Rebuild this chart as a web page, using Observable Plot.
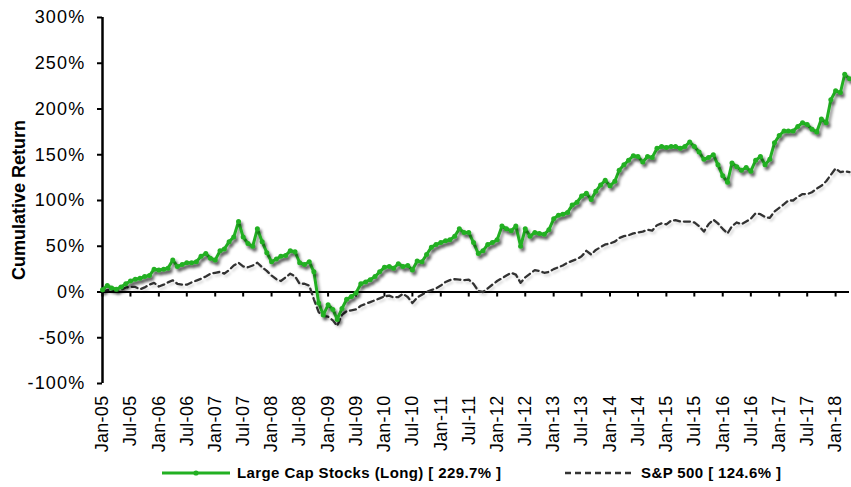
<!DOCTYPE html>
<html><head><meta charset="utf-8">
<script src="https://cdn.jsdelivr.net/npm/d3@7"></script>
<script src="https://cdn.jsdelivr.net/npm/@observablehq/plot@0.6"></script>
<style>
body{margin:0;background:#fff;}
#chart{position:relative;width:851px;height:458px;}
#legend{position:relative;width:851px;height:29px;font:bold 15px "Liberation Sans", Arial, sans-serif;letter-spacing:0.4px;color:#000;}
#legend .item{position:absolute;top:0;height:29px;display:flex;align-items:center;white-space:nowrap;}
#legend svg{display:block;}
</style></head><body>
<div id="chart"></div>
<div id="legend"></div>
<script>
// ---- data ----
const startMonth = "2005-01-01";
const seriesNames = ["Large Cap Stocks (Long) [ 229.7% ]", "S&P 500 [ 124.6% ]"];
const largeCap = [
  2.5, 7, 4.5, 3, 5.5, 9, 12, 14, 15, 17, 18, 25,
  24, 25, 26, 35, 28, 30, 32, 32, 33, 39, 42, 37,
  35, 45, 47, 55, 60, 77, 60, 53, 50, 69, 55, 43,
  33, 36, 39, 40, 45, 44, 32, 30, 33, 22, -12, -25,
  -14, -19, -30, -18, -8, -5, -1, 9, 11, 13.5, 17, 22,
  27, 28, 26, 31, 28, 29, 24, 34, 33, 41, 49, 52,
  54, 56, 57, 61, 69, 65, 65, 54, 42, 45, 52, 54,
  57, 72, 69, 67, 72, 50, 69, 61, 65, 64, 63, 68,
  80, 84, 85, 87, 95, 98, 105, 108, 101, 110, 117, 122,
  116, 121, 133, 139, 144, 149, 148, 142, 148, 147, 157, 159,
  158, 159, 159, 157, 159, 164, 159, 153, 145, 147, 150, 139,
  127, 120, 141, 137, 133, 136, 132, 144, 148, 139, 145, 163,
  171, 176, 176, 176, 181, 185, 183, 178, 175, 189, 185, 210,
  220, 218, 238, 233
];
const sp500 = [
  0.7, 2, 2.5, 2, 2.5, 5, 5.5, 5.5, 3, 5, 8, 10,
  6, 8, 10.5, 12.8, 9, 8, 8, 10.5, 12.5, 14.5, 17, 20,
  21, 22, 20, 24, 29, 32, 28, 27, 29, 32, 27, 23,
  18, 14, 12, 16, 20, 17, 9, 9, 7, -8, -22, -26,
  -27, -31, -37, -25, -21, -20, -19, -15, -13, -11, -9, -7,
  -4.7, -4, -6, -5.5, -2, -5.5, -12, -6, -3, 0, 2, 4,
  7, 11, 13, 14, 13.5, 13, 13.5, 9, 1, 0, 4, 8,
  12, 15, 18, 21, 19, 10, 16, 20, 24, 23, 21, 22,
  25, 27, 29, 32, 34, 36, 39, 45, 41, 46, 49, 52,
  53, 55, 59, 61, 62, 64, 65, 66, 68, 67, 73, 75,
  74, 78, 78.5, 77, 77, 77, 76, 72, 66, 74, 79, 75,
  69, 64, 72, 76, 74, 77, 80, 86, 85, 82, 81, 88,
  92, 96, 100, 100, 104, 107, 107, 109, 113, 116, 121, 128,
  135, 131, 132, 131
];
const yTicks = [-100, -50, 0, 50, 100, 150, 200, 250, 300];
const yTitle = "Cumulative Return";

// ---- build ----
const green = "#22b022";
const start = new Date(startMonth);
const dates = d3.utcMonth.range(start, d3.utcMonth.offset(start, largeCap.length));
const xTicks = d3.utcMonth.every(6).range(dates[0], dates[dates.length - 1]);
const lcRows = dates.map((d, i) => ({date: d, value: largeCap[i]}));
const spRows = dates.map((d, i) => ({date: d, value: sp500[i]}));

const plot = Plot.plot({
  width: 851, height: 458,
  marginLeft: 102, marginRight: 2, marginTop: 17, marginBottom: 75,
  x: {type: "utc", domain: [dates[0], dates[dates.length - 1]]},
  y: {domain: [-100, 300]},
  style: {fontFamily: "'Liberation Sans', Arial, sans-serif", fontSize: "18px", color: "#000", background: "#fff"},
  marks: [
    Plot.axisY({ticks: yTicks, tickSize: 5, tickPadding: 12, strokeWidth: 2, tickFormat: d => d + "%", fontSize: 18, label: null}),
    Plot.axisX({ticks: xTicks, tickSize: 0, tickPadding: 12, tickRotate: -90, tickFormat: d3.utcFormat("%b-%y"), fontSize: 18, label: null}),
    Plot.ruleY([0], {stroke: "#000", strokeWidth: 2}),
    Plot.ruleX(xTicks, {x: d => d, y1: 0, y2: -5.5, stroke: "#000", strokeWidth: 2}),
    Plot.ruleX([dates[0]], {stroke: "#000", strokeWidth: 2.5}),
    Plot.line(spRows, {x: "date", y: "value", stroke: "#333", strokeWidth: 2.3, strokeDasharray: "6,4"}),
    Plot.line(lcRows, {x: "date", y: "value", stroke: green, strokeWidth: 3}),
    Plot.dot(lcRows, {x: "date", y: "value", r: 2.5, fill: green, stroke: "none"})
  ]
});
document.getElementById("chart").appendChild(plot);

const svg = d3.select(plot);
const defs = svg.insert("defs", ":first-child");
defs.append("filter").attr("id", "shGreen").attr("x", "-10%").attr("y", "-10%").attr("width", "120%").attr("height", "130%")
  .append("feDropShadow").attr("dx", 2).attr("dy", 3).attr("stdDeviation", 1.6)
  .attr("flood-color", "#000").attr("flood-opacity", 0.45);
defs.append("filter").attr("id", "shDash").attr("x", "-10%").attr("y", "-10%").attr("width", "120%").attr("height", "130%")
  .append("feDropShadow").attr("dx", 2).attr("dy", 2.5).attr("stdDeviation", 1.2)
  .attr("flood-color", "#000").attr("flood-opacity", 0.15);
const lines = svg.selectAll('g[aria-label="line"]').nodes();
if (lines[0]) lines[0].setAttribute("filter", "url(#shDash)");
if (lines[1]) lines[1].setAttribute("filter", "url(#shGreen)");
svg.selectAll('g[aria-label="dot"]').attr("filter", "url(#shGreen)");
svg.selectAll('g[aria-label="y-axis tick label"] text').style("letter-spacing", "1.2px");
svg.selectAll('g[aria-label="x-axis tick label"] text').style("letter-spacing", "0.3px");

// y title
svg.append("text")
  .attr("transform", "translate(25,200) rotate(-90)")
  .attr("text-anchor", "middle")
  .attr("font-family", "'Liberation Sans', Arial, sans-serif")
  .attr("font-weight", "bold")
  .attr("font-size", 18)
  .attr("fill", "#000")
  .text(yTitle);

// legend
const legend = document.getElementById("legend");
legend.innerHTML =
  `<div class="item" style="left:162px">` +
  `<svg width="70" height="12"><line x1="0" y1="6" x2="68" y2="6" stroke="${green}" stroke-width="3"/><circle cx="34" cy="6" r="2.6" fill="${green}"/></svg>` +
  `<span style="margin-left:5px">${seriesNames[0]}</span></div>` +
  `<div class="item" style="left:565px">` +
  `<svg width="70" height="12"><line x1="0" y1="6" x2="68" y2="6" stroke="#333" stroke-width="2.3" stroke-dasharray="6,4"/></svg>` +
  `<span style="margin-left:6px">${seriesNames[1].replace("&", "&amp;")}</span></div>`;
</script>
</body></html>
